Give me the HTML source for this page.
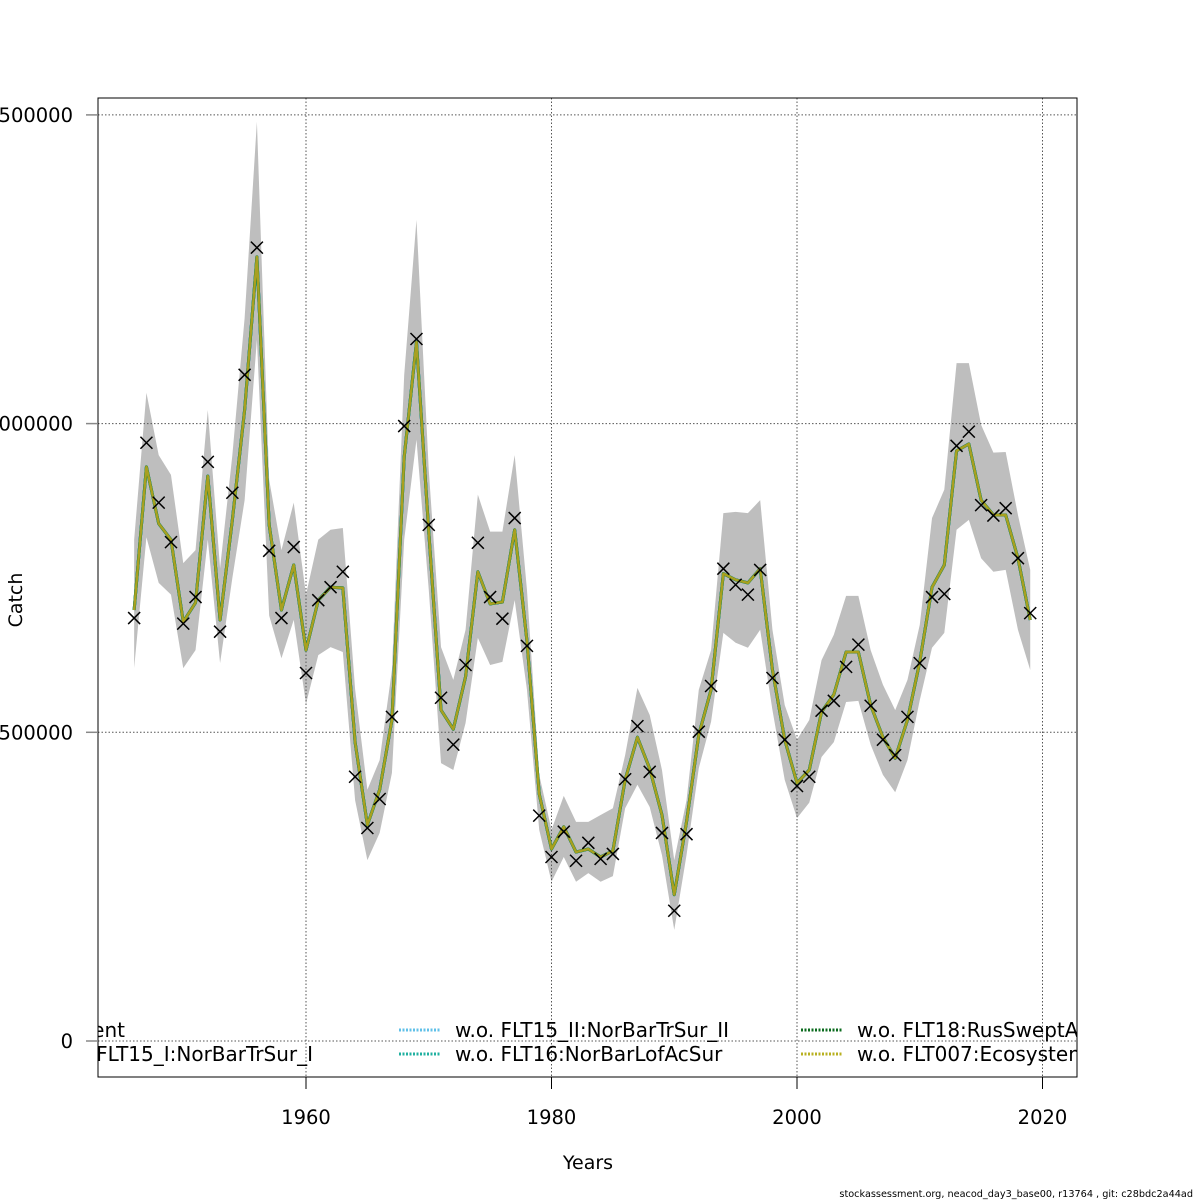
<!DOCTYPE html>
<html><head><meta charset="utf-8"><style>
html,body{margin:0;padding:0;background:#fff;}
svg{display:block;font-family:"DejaVu Sans","Liberation Sans",sans-serif;}
</style></head><body>
<svg id="chart" width="1200" height="1200" viewBox="0 0 1200 1200">
<defs><clipPath id="plotclip"><rect x="98" y="98" width="979" height="979"/></clipPath></defs>
<g id="band" clip-path="url(#plotclip)"></g>
<g id="grid"></g>
<g id="lines" clip-path="url(#plotclip)"></g>
<g id="points" clip-path="url(#plotclip)"></g>
<g id="legend" clip-path="url(#plotclip)"></g>
<rect x="98" y="98" width="979" height="979" fill="none" stroke="#000" stroke-width="1"/>
<g id="axes"></g>
<text x="22" y="600" font-size="19" text-anchor="middle" transform="rotate(-90 22 600)">Catch</text>
<text x="588" y="1169" font-size="19" text-anchor="middle">Years</text>
<text x="1193" y="1197" font-size="9.7" text-anchor="end">stockassessment.org, neacod_day3_base00, r13764 , git: c28bdc2a44ad</text>
</svg>
<script>
const years = [];
for (let y = 1946; y <= 2019; y++) years.push(y);
const observed = [685,969,872,808,676,719,938,663,888,1079,1285,794,685,800,596,714,735,760,428,345,392,525,996,1137,836,556,480,609,807,719,684,847,640,365,298,339,292,321,295,303,424,510,436,337,211,335,501,575,765,739,723,763,588,488,413,428,535,551,606,642,543,488,463,525,612,719,724,964,987,868,851,863,782,693];
const fitted = [698,930,838,812,679,710,915,682,844,1022,1270,836,698,771,633,714,735,734,484,350,407,520,946,1132,825,536,505,590,760,708,711,828,648,400,311,347,306,311,298,308,423,492,441,366,237,355,496,569,757,747,742,765,601,488,418,439,533,561,630,630,544,492,458,520,614,735,771,956,967,876,852,852,782,682];
const upper = [812,1050,949,917,774,795,1022,766,949,1171,1489,909,795,872,723,812,828,831,570,407,455,601,1079,1330,925,638,585,666,885,825,825,949,731,431,342,397,355,355,366,377,463,572,528,439,293,390,569,633,855,857,855,876,666,544,488,520,617,658,721,721,633,577,536,585,674,847,893,1098,1098,998,953,954,852,763];
const lower = [604,816,742,723,604,633,812,612,750,876,1136,689,620,682,546,625,638,630,390,293,337,434,812,974,731,450,439,515,653,609,614,714,569,342,258,298,258,272,258,267,377,415,379,301,180,301,442,517,661,645,637,666,536,423,361,386,460,484,549,551,480,431,403,455,552,637,661,828,844,782,760,763,666,601];
const yTicks = [0,500000,1000000,1500000];
const yTickLabels = ["0","500000","1000000","1500000"];
const xTicks = [1960,1980,2000,2020];
const legendLabels = ["Current","w.o. FLT15_I:NorBarTrSur_I","w.o. FLT15_II:NorBarTrSur_II","w.o. FLT16:NorBarLofAcSur","w.o. FLT18:RusSweptArea","w.o. FLT007:Ecosystem"];
const legendColors = ["#000080","#3050c0","#60c0e8","#20b0a0","#0b6b1e","#b8b020"];

const NS = "http://www.w3.org/2000/svg";
function xs(y){ return 306 + (y-1960)*245.5/20; }
function ys(v){ return 1041 - v*308.7/500000; }
function mk(tag, attrs, parent){ const e=document.createElementNS(NS,tag); for(const k in attrs) e.setAttribute(k,attrs[k]); parent.appendChild(e); return e; }
const K = 1000;

const bandG = document.getElementById('band');
let d = "";
years.forEach((y,i)=>{ d += (i?"L":"M")+xs(y)+","+ys(upper[i]*K); });
for (let i=years.length-1;i>=0;i--) d += "L"+xs(years[i])+","+ys(lower[i]*K);
const band = mk('path',{d:d+"Z",fill:"#bebebe",stroke:"none"},bandG);



const gridG = document.getElementById('grid'), axG = document.getElementById('axes');
yTicks.forEach((t,i)=>{
  const y = ys(t);
  const g = mk('line',{x1:98,x2:1077,y1:y,y2:y,stroke:"#555","stroke-width":1,"stroke-dasharray":"1.5,2"},gridG);
  
  
  const tk = mk('line',{x1:86,x2:98,y1:y,y2:y,stroke:"#888","stroke-width":1.5},axG);
  
  
  const lb = mk('text',{x:73,y:y+7,"font-size":19.5,"text-anchor":"end"},axG);
  lb.textContent = yTickLabels[i];
  
  
});
xTicks.forEach(t=>{
  const x = xs(t);
  const g = mk('line',{x1:x,x2:x,y1:98,y2:1077,stroke:"#555","stroke-width":1,"stroke-dasharray":"1.5,2"},gridG);
  
  
  const tk = mk('line',{x1:x,x2:x,y1:1077,y2:1089,stroke:"#000","stroke-width":1},axG);
  
  
  const lb = mk('text',{x:x,y:1124,"font-size":19.5,"text-anchor":"middle"},axG);
  lb.textContent = String(t);
  
  
});

const linesG = document.getElementById('lines');
const pts = years.map((y,i)=>xs(y)+","+ys(fitted[i]*K)).join(" ");
const drawColors = ["#000080","#60c0e8","#20b0a0","#0b7b2e","#a8a020"];
const widths = [3,3,3,3,2.5];
drawColors.forEach((c,i)=>{
  const pl = mk('polyline',{points:pts,fill:"none",stroke:c,"stroke-width":widths[i],"stroke-linejoin":"round"},linesG);
  
  
});

const ptG = document.getElementById('points');
years.forEach((y,i)=>{
  const cx = xs(y), cy = ys(observed[i]*K), r = 6;
  const p = mk('path',{d:`M${cx-r},${cy-r}L${cx+r},${cy+r}M${cx-r},${cy+r}L${cx+r},${cy-r}`,stroke:"#000","stroke-width":1.5,fill:"none"},ptG);
  
  
});

const lg = document.getElementById('legend');
const colX = [-300, 399, 801];
const rowY = [1030, 1054];
legendLabels.forEach((lab,i)=>{
  const col = Math.floor(i/2), row = i%2;
  const x = colX[col], y = rowY[row];
  const ln = mk('line',{x1:x,x2:x+42,y1:y,y2:y,stroke:legendColors[i],"stroke-width":3,"stroke-dasharray":"2,1.5"},lg);
  
  
  const t = mk('text',{x:x+56,y:y+7,"font-size":20},lg);
  t.textContent = lab;
  
  
});
(function(){
  const texts = lg.querySelectorAll('text');
  texts[0].setAttribute('x', 125); texts[0].setAttribute('text-anchor','end');
  texts[1].setAttribute('x', 313); texts[1].setAttribute('text-anchor','end');
})();
</script>
</body></html>
